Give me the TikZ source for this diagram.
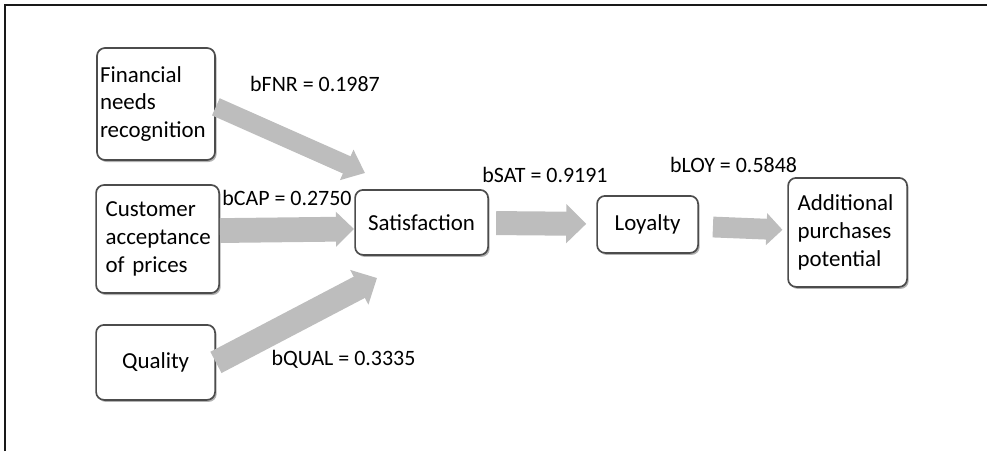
\documentclass[tikz,border=0pt]{standalone}
\usepackage{fontspec}
\setmainfont{Carlito}
\usepackage{tikz}
\usetikzlibrary{arrows.meta, positioning, calc, shadows}

\begin{document}
\begin{tikzpicture}[
    every node/.style={font=\fontsize{15.6}{19.6}\selectfont},
    factor/.style={rectangle, rounded corners=0.2cm, draw=black!70, line width=1.2pt, fill=white, align=left, inner sep=0pt, font=\fontsize{16.3}{19.8}\selectfont, drop shadow={shadow xshift=0.04cm, shadow yshift=-0.05cm, fill=black, opacity=0.3}},
    coef/.style={inner sep=1pt},
    fatarrow/.style={-{Triangle[length=0.5cm, width=0.95cm]}, line width=0.6cm, draw=black!26}
]
\useasboundingbox (0,0) rectangle (24.675,-11.275);
\draw[line width=1.1pt, black!90] (0.125,-11.275) -- (0.125,-0.125) -- (24.675,-0.125);

\node[factor, minimum width=2.95cm, minimum height=2.8cm, text width=2.8cm] (fnr) at (3.9,-2.6) {Financial\\needs\\recognition};
\node[factor, minimum width=3.075cm, minimum height=2.7cm, text width=2.6cm] (cap) at (3.94,-5.975) {Customer\\acceptance\\of prices};
\node[factor, minimum width=2.975cm, minimum height=1.875cm, align=center] (qual) at (3.89,-9.06) {Quality};
\node[factor, minimum width=3.325cm, minimum height=1.625cm, align=center] (sat) at (10.54,-5.56) {Satisfaction};
\node[factor, minimum width=2.525cm, minimum height=1.425cm, align=center] (loy) at (16.19,-5.61) {Loyalty};
\node[factor, minimum width=2.975cm, minimum height=2.725cm, text width=2.5cm] (add) at (21.19,-5.81) {Additional\\purchases\\potential};

\coordinate (fnrin) at (9.125,-4.325);
\coordinate (capin) at (8.85,-5.725);
\coordinate (qualin) at (9.425,-6.95);

\draw[fatarrow, line width=0.47cm, -{Triangle[length=0.5cm, width=0.8cm]}] ([yshift=-2pt]fnr.east) -- (fnrin);
\draw[fatarrow, line width=0.62cm, -{Triangle[length=0.45cm, width=0.85cm]}] ([yshift=6pt]cap.east) -- (capin);
\draw[fatarrow] (qual.east) -- (qualin);
\draw[fatarrow, shorten <=0.18cm, shorten >=0.25cm] (sat) -- (loy);
\draw[fatarrow, line width=0.52cm, -{Triangle[length=0.4cm, width=0.78cm]}, shorten <=0.35cm, shorten >=0.12cm] (loy) -- (add);

\node[coef] (bfnr) at (7.875,-2.1) {bFNR = 0.1987};
\node[coef] (bcap) at (7.175,-4.95) {bCAP = 0.2750};
\node[coef] (bqual) at (8.5875,-8.975) {bQUAL = 0.3335};
\node[coef] (bsat) at (13.625,-4.375) {bSAT = 0.9191};
\node[coef] (bloy) at (18.34,-4.125) {bLOY = 0.5848};
\end{tikzpicture}
\end{document}
